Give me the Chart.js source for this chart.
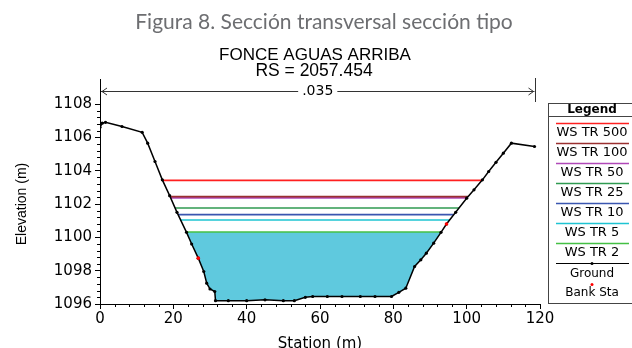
<!DOCTYPE html>
<html>
<head>
<meta charset="utf-8">
<script src="https://cdn.jsdelivr.net/npm/chart.js@4.4.1/dist/chart.umd.min.js"></script>
<style>
body { margin: 0; background: #fff; }
#wrap { width: 632px; height: 348px; position: relative; }
</style>
</head>
<body>
<div id="wrap"><canvas id="xsChart"></canvas></div>
<script>
// cross section
const groundSta  = [0, 0.6, 1.5, 6, 11.5, 13, 15, 17, 19, 21, 23.6, 25, 26.8, 28.3, 29.1, 30, 31.3, 31.5, 35, 40, 45, 50, 53, 56, 58, 62, 66, 71, 75, 79.5, 81.5, 83.4, 85.8, 87.5, 89, 91, 93, 94.5, 97, 100, 102, 104.3, 106, 108, 110, 112.2, 118.5];
const groundElev = [1106.6, 1106.85, 1106.9, 1106.65, 1106.3, 1105.65, 1104.55, 1103.45, 1102.5, 1101.5, 1100.3, 1099.6, 1098.75, 1097.95, 1097.25, 1096.9, 1096.75, 1096.2, 1096.2, 1096.2, 1096.25, 1096.2, 1096.2, 1096.4, 1096.45, 1096.45, 1096.45, 1096.45, 1096.45, 1096.45, 1096.7, 1096.95, 1098.25, 1098.65, 1099.05, 1099.65, 1100.3, 1100.8, 1101.5, 1102.35, 1102.85, 1103.45, 1103.95, 1104.5, 1105.05, 1105.65, 1105.45];

const bankSta  = [26.8, 94.5];
const bankElev = [1098.75, 1100.8];

const wsNames = ["WS TR 500", "WS TR 100", "WS TR 50", "WS TR 25", "WS TR 10", "WS TR 5", "WS TR 2"];
const wsElev  = [1103.42, 1102.44, 1102.37, 1101.76, 1101.36, 1101.04, 1100.32];
const wsColors = ["#ff2020", "#9a3030", "#b048b8", "#2f9a50", "#3a56b0", "#1ec4d2", "#44c044"];

const xTicks = [0, 20, 40, 60, 80, 100, 120];
const yTicks = [1096, 1098, 1100, 1102, 1104, 1106, 1108];
const nValue = ".035";

const titleText = "Figura 8. Sección transversal sección tipo";
const subTitle = ["FONCE AGUAS ARRIBA", "RS = 2057.454"];
const yTitle = "Elevation (m)";

// where a water level meets the banks, walking out from the lowest ground point
function crossing(level, dir) {
    var i = groundElev.indexOf(Math.min(...groundElev));
    while (i + dir >= 0 && i + dir < groundElev.length && groundElev[i + dir] < level) i += dir;
    var j = i + dir;
    if (j < 0 || j >= groundElev.length) return groundSta[i];
    var t = (level - groundElev[i]) / (groundElev[j] - groundElev[i]);
    return groundSta[i] + t * (groundSta[j] - groundSta[i]);
}

var ground = groundSta.map((s, i) => ({x: s, y: groundElev[i]}));

var wsSets = wsNames.map((name, k) => ({
    label: name,
    data: [{x: crossing(wsElev[k], -1), y: wsElev[k]}, {x: crossing(wsElev[k], 1), y: wsElev[k]}],
    borderColor: wsColors[k],
    borderWidth: 1.6,
    pointRadius: 0,
    fill: false
}));

// water body under the lowest profile
var lowWs = wsElev[wsElev.length - 1];
var xl = crossing(lowWs, -1), xr = crossing(lowWs, 1);
var water = [{x: xl, y: lowWs}];
ground.forEach(p => { if (p.x > xl && p.x < xr) water.push(p); });
water.push({x: xr, y: lowWs});

const tickFont = {family: "DejaVu Sans", size: 15};

const decorations = {
    id: "decorations",
    afterDraw(chart) {
        const ctx = chart.ctx;
        const xs = chart.scales.x, ys = chart.scales.y;
        const area = chart.chartArea;
        ctx.save();

        // titles
        ctx.fillStyle = "#6d6e71";
        ctx.textAlign = "center";
        ctx.textBaseline = "alphabetic";
        ctx.font = "21px Lato";
        ctx.fillText(titleText, 324, 29);
        ctx.fillStyle = "#000";
        ctx.font = "17px 'Liberation Sans'";
        ctx.fillText(subTitle[0], 315, 60);
        ctx.font = "17.5px 'Liberation Sans'";
        ctx.fillText(subTitle[1], 314, 76);

        // y axis title, centred on the labelled range
        ctx.save();
        ctx.translate(22, (ys.getPixelForValue(yTicks[0]) + ys.getPixelForValue(yTicks[yTicks.length - 1])) / 2);
        ctx.rotate(-Math.PI / 2);
        ctx.textBaseline = "middle";
        ctx.font = "14px 'Liberation Sans'";
        ctx.fillText(yTitle, 0, 0);
        ctx.restore();

        // minor ticks
        ctx.strokeStyle = "#000";
        ctx.lineWidth = 1;
        ctx.beginPath();
        for (var v = 0; v <= 120; v += 4) {
            if (v % 20 == 0) continue;
            var px = Math.round(xs.getPixelForValue(v)) + 0.5;
            ctx.moveTo(px, area.bottom);
            ctx.lineTo(px, area.bottom + 3);
        }
        for (var k = 0; k <= 30; k++) {
            if (k % 5 == 0) continue;
            var py = Math.round(ys.getPixelForValue(1096 + k * 0.4)) + 0.5;
            ctx.moveTo(area.left, py);
            ctx.lineTo(area.left - 3, py);
        }
        ctx.stroke();

        // Manning n arrow over the section
        var x0 = xs.getPixelForValue(groundSta[0]) + 1;
        var x1 = xs.getPixelForValue(groundSta[groundSta.length - 1]);
        var ay = 91;
        ctx.font = "14px 'DejaVu Sans'";
        ctx.textBaseline = "middle";
        var tw = ctx.measureText(nValue).width;
        var tx = (x0 + x1) / 2;
        ctx.fillText(nValue, tx, ay);
        ctx.strokeStyle = "#333";
        ctx.beginPath();
        ctx.moveTo(x0, ay + 0.5); ctx.lineTo(tx - tw / 2 - 4, ay + 0.5);
        ctx.moveTo(tx + tw / 2 + 4, ay + 0.5); ctx.lineTo(x1, ay + 0.5);
        ctx.moveTo(x0 + 6, ay - 3); ctx.lineTo(x0 + 1, ay + 0.5); ctx.lineTo(x0 + 6, ay + 4);
        ctx.moveTo(x1 - 6, ay - 3); ctx.lineTo(x1 - 1, ay + 0.5); ctx.lineTo(x1 - 6, ay + 4);
        ctx.moveTo(Math.round(x1) + 0.5, 78); ctx.lineTo(Math.round(x1) + 0.5, 102);
        ctx.stroke();

        // legend box
        var lx = 548.5, ly = 103.5, cx = 592;
        ctx.strokeStyle = "#444";
        ctx.strokeRect(lx, ly, 100, 200);
        ctx.beginPath();
        ctx.moveTo(lx, 116.5); ctx.lineTo(640, 116.5);
        ctx.stroke();
        ctx.fillStyle = "#000";
        ctx.font = "bold 12px 'DejaVu Sans'";
        ctx.fillText("Legend", cx, 110);
        ctx.font = "13px 'DejaVu Sans'";
        wsSets.forEach((ds, k) => {
            var y = 123.5 + k * 20;
            ctx.strokeStyle = ds.borderColor;
            ctx.lineWidth = 1.6;
            ctx.beginPath();
            ctx.moveTo(556, y); ctx.lineTo(629, y);
            ctx.stroke();
            ctx.fillText(ds.label, cx, y + 9.5);
        });
        var gy = 123.5 + wsSets.length * 20;
        ctx.strokeStyle = "#000";
        ctx.lineWidth = 1;
        ctx.beginPath();
        ctx.moveTo(556, gy); ctx.lineTo(629, gy);
        ctx.stroke();
        ctx.beginPath(); ctx.arc(cx, gy, 1.5, 0, 2 * Math.PI); ctx.fill();
        ctx.font = "12px 'DejaVu Sans'";
        ctx.fillText("Ground", cx, gy + 10);
        ctx.fillStyle = "#ff0000";
        ctx.beginPath(); ctx.arc(cx, gy + 21, 1.5, 0, 2 * Math.PI); ctx.fill();
        ctx.fillStyle = "#000";
        ctx.fillText("Bank Sta", cx, gy + 29.5);
        ctx.restore();
    }
};

var xsChart = new Chart("xsChart", {
    type: "line",
    data: {
        datasets: [
            {
                label: "Bank Sta",
                data: bankSta.map((s, i) => ({x: s, y: bankElev[i]})),
                showLine: false,
                pointRadius: 1.8,
                pointBackgroundColor: "#ff0000",
                pointBorderWidth: 0
            },
            {
                label: "Ground",
                data: ground,
                borderColor: "#000",
                borderWidth: 1.5,
                pointRadius: 1.6,
                pointBackgroundColor: "#000",
                pointBorderWidth: 0,
                fill: false
            },
            ...wsSets,
            {
                label: "water",
                data: water,
                borderWidth: 0,
                pointRadius: 0,
                backgroundColor: "#5fc9de",
                fill: {value: lowWs}
            }
        ]
    },
    options: {
        responsive: true,
        maintainAspectRatio: false,
        animation: false,
        layout: {padding: {top: 79, right: 92, left: 0, bottom: 0}},
        plugins: {
            legend: {display: false},
            tooltip: {enabled: false}
        },
        scales: {
            x: {
                type: "linear",
                min: 0,
                max: 120,
                afterBuildTicks: s => { s.ticks = xTicks.map(v => ({value: v})); },
                afterFit: s => { s.height = 44; },
                ticks: {font: tickFont, color: "#000", padding: 1, maxRotation: 0, callback: v => String(v)},
                grid: {drawOnChartArea: false, tickLength: 5, color: "#000"},
                border: {color: "#000"},
                title: {display: true, text: "Station (m)", color: "#000",
                        font: {family: "DejaVu Sans", size: 15, lineHeight: 1}, padding: {top: 0, bottom: -4}}
            },
            y: {
                type: "linear",
                min: 1096,
                max: 1109.5,
                afterBuildTicks: s => { s.ticks = yTicks.map(v => ({value: v})); },
                afterFit: s => { s.width = 100; },
                ticks: {font: tickFont, color: "#000", padding: 3, callback: v => String(v)},
                grid: {drawOnChartArea: false, tickLength: 5, color: "#000"},
                border: {color: "#000"}
            }
        }
    },
    plugins: [decorations]
});
</script>
</body>
</html>
